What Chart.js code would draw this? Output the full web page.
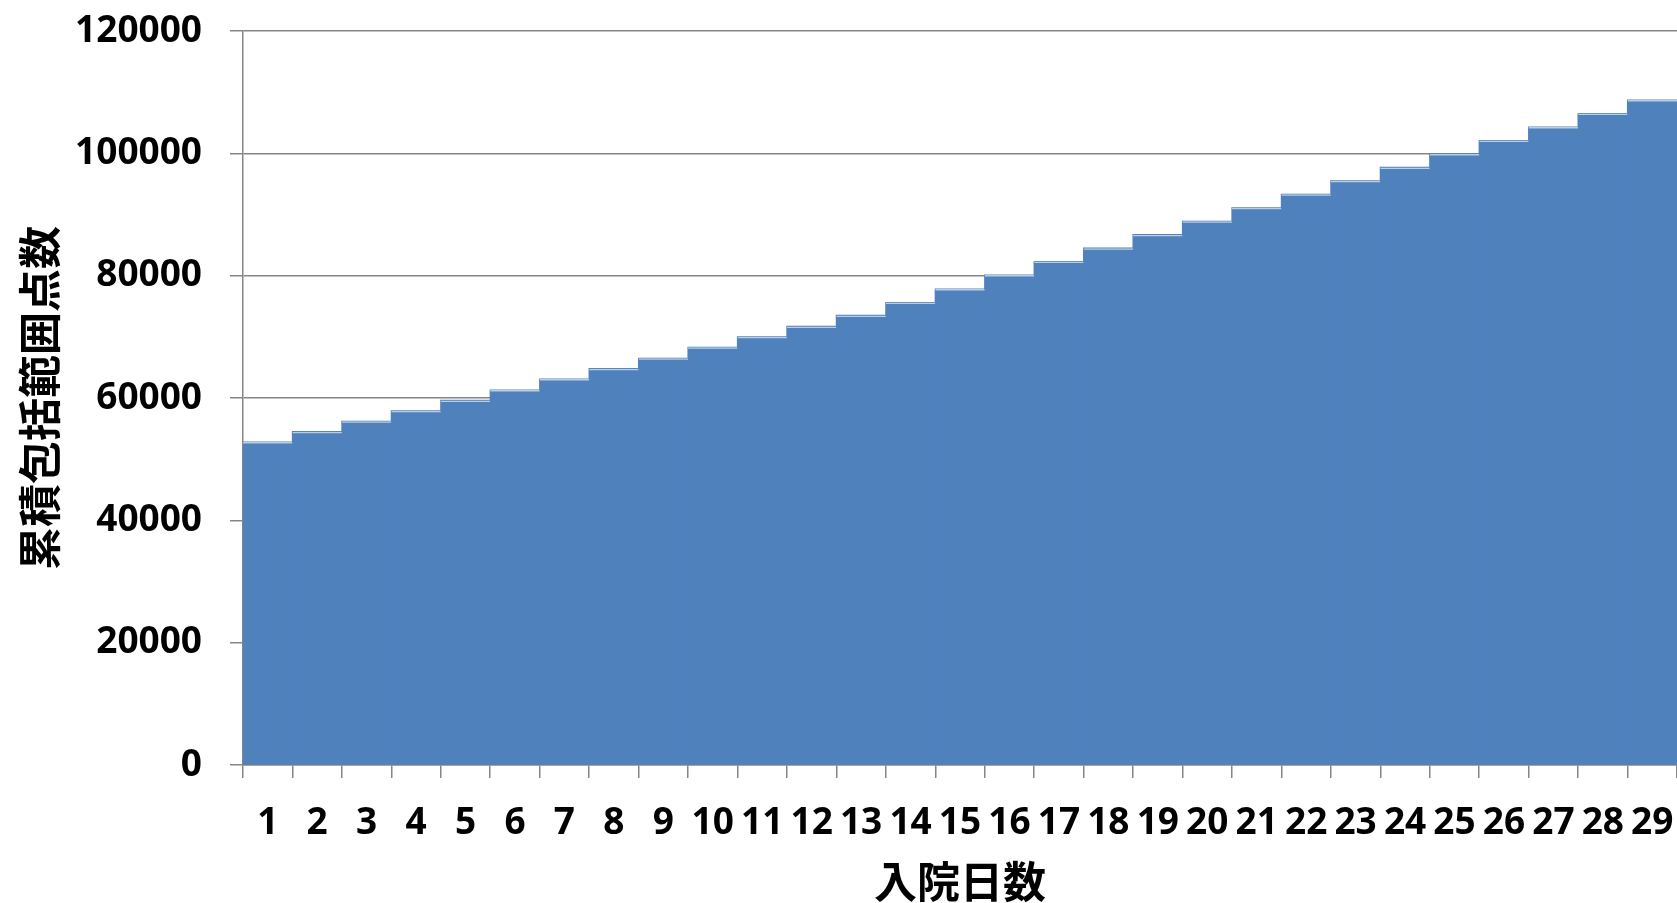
<!DOCTYPE html>
<html>
<head>
<meta charset="utf-8">
<script src="https://cdn.jsdelivr.net/npm/chart.js@4.4.1/dist/chart.umd.min.js"></script>
<style>
  body { margin: 0; background: #fff; }
  #wrap { width: 1677px; height: 903px; }
</style>
</head>
<body>
<div id="wrap"><canvas id="pointsChart"></canvas></div>
<script>
const days = ['1', '2', '3', '4', '5', '6', '7', '8', '9', '10', '11', '12', '13', '14', '15',
  '16', '17', '18', '19', '20', '21', '22', '23', '24', '25', '26', '27', '28', '29'];
const points = [52800, 54500, 56200, 57900, 59600, 61300, 63100, 64800, 66500, 68300,
  70000, 71700, 73500, 75600, 77800, 80100, 82300, 84500, 86700, 88900,
  91100, 93300, 95500, 97700, 99900, 102100, 104300, 106500, 108700];
const yTicks = [0, 20000, 40000, 60000, 80000, 100000, 120000];
const xTitle = '入院日数';
const yTitle = '累積包括範囲点数';

const gray = '#868686';
const tickFont = { family: '"Open Sans", "Liberation Sans", sans-serif', size: 37, weight: 'bold' };
const titleFont = { family: '"Noto Sans CJK JP", sans-serif', size: 43, weight: 'bold', lineHeight: 1 };

// two layers on the same bars: a seamless fill and a thin light edge on top
const chartData = {
  labels: days,
  datasets: [{
    data: points,
    backgroundColor: 'rgba(0,0,0,0)',
    borderColor: '#b9cde5',
    borderWidth: { top: 1.5, left: 0, right: 0, bottom: 0 },
    borderSkipped: false,
    inflateAmount: 0,
    grouped: false,
    barPercentage: 1,
    categoryPercentage: 1
  }, {
    data: points,
    backgroundColor: '#4f81bd',
    borderWidth: 0,
    inflateAmount: 0.6,
    grouped: false,
    barPercentage: 1,
    categoryPercentage: 1
  }]
};

const settings = {
  type: 'bar',
  data: chartData,
  options: {
    responsive: true,
    maintainAspectRatio: false,
    animation: false,
    layout: { padding: { top: 31, right: 0, bottom: 0, left: 0 } },
    plugins: { legend: { display: false }, tooltip: { enabled: false } },
    scales: {
      x: {
        grid: { drawOnChartArea: false, drawTicks: true, tickLength: 13, color: gray, lineWidth: 1.5 },
        border: { color: gray, width: 1.5 },
        ticks: { color: '#000', font: tickFont, autoSkip: false, maxRotation: 0, padding: 23 },
        title: { display: true, text: xTitle, color: '#000', font: titleFont, padding: { top: 0, bottom: 0 } },
        afterFit: axis => {
          axis.height = 138;
          axis.paddingLeft = 0;
          axis.paddingRight = 0;
        }
      },
      y: {
        min: 0,
        max: 120000,
        afterBuildTicks: axis => { axis.ticks = yTicks.map(v => ({ value: v })); },
        grid: { color: gray, lineWidth: 1.5, tickLength: 13 },
        border: { color: gray, width: 1.5 },
        ticks: { color: '#000', font: tickFont, padding: 28, callback: v => String(v) },
        title: { display: true, text: yTitle, color: '#000', font: titleFont, padding: { top: 18, bottom: 0 } },
        afterFit: axis => {
          axis.width = 243;
          axis.paddingTop = 0;
          axis.paddingBottom = 0;
        }
      }
    }
  }
};

new Chart(document.getElementById('pointsChart'), settings);
</script>
</body>
</html>
